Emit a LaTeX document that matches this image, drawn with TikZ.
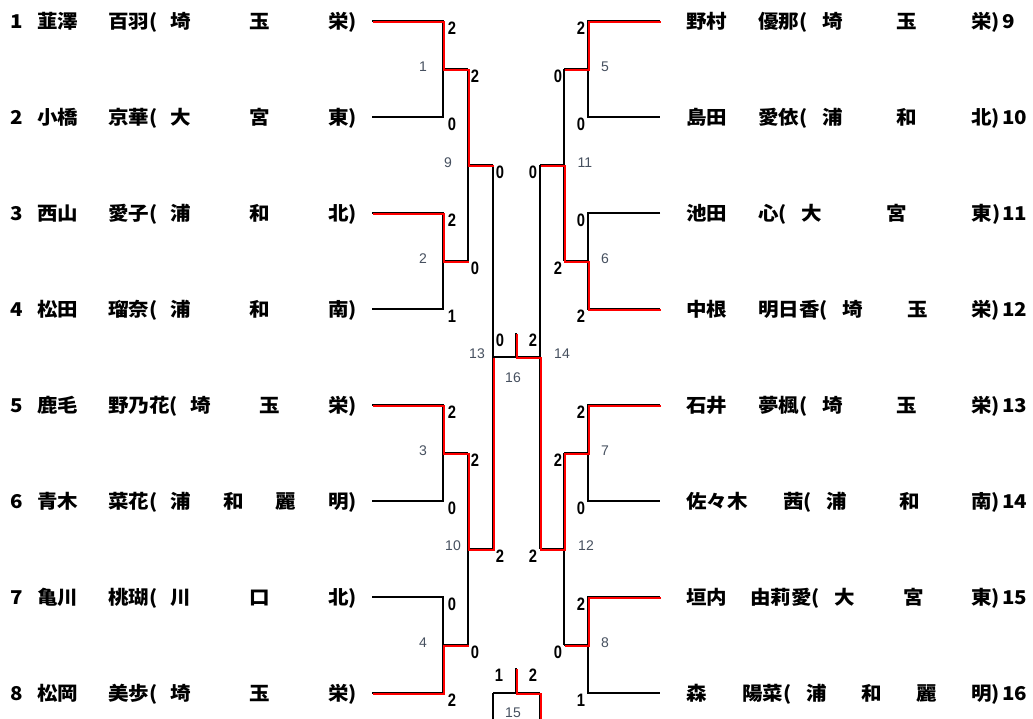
\documentclass[tikz,border=0pt]{standalone}
\usepackage{fontspec}
\setmainfont{Liberation Sans}
\newfontfamily\jpfont{Noto Sans CJK JP}[FakeStretch=1.08]
\newfontfamily\scorefont{Liberation Sans}[FakeStretch=0.82]
\definecolor{labc}{RGB}{70,80,95}
\tikzset{
  wire/.style={black, line width=1.1pt},
  win/.style={red, line width=1.6pt, transform canvas={shift={(1.1pt,-1.1pt)}}},
  score/.style={font=\scorefont\bfseries\fontsize{18}{18}\selectfont, inner sep=0pt},
  lab/.style={font=\fontsize{14}{14}\selectfont, text=labc, inner sep=0pt},
  ptxt/.style={font=\jpfont\bfseries\fontsize{19}{19}\selectfont, inner sep=0pt, anchor=west}
}
\newcommand\lrow[6]{\node[ptxt] (#1) at (10,#2) {\hbox to 347pt{\rlap{#3}\hskip 27pt\rlap{#4}\hskip 71pt #5(\hskip 13pt #6)}};}
\newcommand\rrow[7]{\node[ptxt] (#1) at (686,#2) {\hbox to 314pt{\rlap{#3}\hskip #4pt #5(\hskip 15pt #6)}\rlap{\hskip 2pt #7}};}
\begin{document}
\begin{tikzpicture}[x=1pt,y=-1pt]
\fill[white] (0,0) rectangle (1033,719);
\useasboundingbox (0,0) rectangle (1033,719);
% coordinates
\foreach \i in {1,...,8}{
  \pgfmathsetmacro\yy{21+96*(\i-1)}
  \coordinate (la\i) at (372,\yy); \coordinate (lb\i) at (443,\yy);
  \coordinate (ra\i) at (660,\yy); \coordinate (rb\i) at (588,\yy);
}
\foreach \k in {1,...,4}{
  \pgfmathsetmacro\yy{69+192*(\k-1)}
  \coordinate (lm\k) at (443,\yy); \coordinate (lc\k) at (468,\yy);
  \coordinate (rm\k) at (588,\yy); \coordinate (rc\k) at (564,\yy);
}
\coordinate (ld1) at (468,165); \coordinate (le1) at (493,165);
\coordinate (ld2) at (468,549); \coordinate (le2) at (493,549);
\coordinate (rd1) at (564,165); \coordinate (re1) at (540,165);
\coordinate (rd2) at (564,549); \coordinate (re2) at (540,549);
\coordinate (lf) at (493,357); \coordinate (rf) at (540,357);
\coordinate (fc) at (516,357); \coordinate (ft) at (516,333);
\coordinate (tt) at (516,668); \coordinate (tc) at (516,693);
\coordinate (tl) at (493,693); \coordinate (tr) at (540,693);
\coordinate (tlb) at (493,720); \coordinate (trb) at (540,720);
% black bracket
\foreach \k [evaluate=\k as \i using int(2*\k-1), evaluate=\k as \j using int(2*\k)] in {1,...,4}{
  \draw[wire] (la\i) -- (lb\i) -- (lb\j) -- (la\j);
  \draw[wire] (lm\k) -- (lc\k);
  \draw[wire] (ra\i) -- (rb\i) -- (rb\j) -- (ra\j);
  \draw[wire] (rm\k) -- (rc\k);
}
\draw[wire] (lc1) -- (lc2); \draw[wire] (ld1) -- (le1);
\draw[wire] (lc3) -- (lc4); \draw[wire] (ld2) -- (le2);
\draw[wire] (rc1) -- (rc2); \draw[wire] (rd1) -- (re1);
\draw[wire] (rc3) -- (rc4); \draw[wire] (rd2) -- (re2);
\draw[wire] (le1) -- (le2); \draw[wire] (re1) -- (re2);
\draw[wire] (lf) -- (rf); \draw[wire] (fc) -- (ft);
\draw[wire] (tt) -- (tc); \draw[wire] (tl) -- (tr);
\draw[wire] (tl) -- (tlb); \draw[wire] (tr) -- (trb);
% winners
\draw[win] (la1) -- (lb1) -- (lm1) -- (lc1) -- (ld1) -- (le1);
\draw[win] (la3) -- (lb3) -- (lm2) -- (lc2);
\draw[win] (la5) -- (lb5) -- (lm3) -- (lc3) -- (ld2) -- (le2) -- (lf);
\draw[win] (la8) -- (lb8) -- (lm4) -- (lc4);
\draw[win] (ra1) -- (rb1) -- (rm1) -- (rc1);
\draw[win] (ra4) -- (rb4) -- (rm2) -- (rc2) -- (rd1) -- (re1);
\draw[win] (ra5) -- (rb5) -- (rm3) -- (rc3) -- (rd2) -- (re2) -- (rf) -- (fc) -- (ft);
\draw[win] (ra7) -- (rb7) -- (rm4) -- (rc4);
\draw[win] (tt) -- (tc) -- (tr) -- (trb);
% scores
\foreach \i/\v in {1/2,2/0,3/2,4/1,5/2,6/0,7/0,8/2}{
  \node[score] (sl\i) at (452,{28+96*(\i-1)}) {\v};}
\foreach \i/\v in {1/2,2/0,3/0,4/2,5/2,6/0,7/2,8/1}{
  \node[score] (sr\i) at (581,{28+96*(\i-1)}) {\v};}
\foreach \k/\v in {1/2,2/0,3/2,4/0}{
  \node[score] (tl\k s) at (475,{76+192*(\k-1)}) {\v};}
\foreach \k/\v in {1/0,2/2,3/2,4/0}{
  \node[score] (tr\k s) at (558,{76+192*(\k-1)}) {\v};}
\node[score] (q1) at (500,172) {0};
\node[score] (q2) at (500,556) {2};
\node[score] (q3) at (533,172) {0};
\node[score] (q4) at (533,556) {2};
\node[score] (f1) at (500,340) {0};
\node[score] (f2) at (533,340) {2};
\node[score] (h1) at (499,675) {1};
\node[score] (h2) at (533,675) {2};
% match labels
\foreach \k in {1,...,4}{
  \pgfmathtruncatemacro\rn{\k+4}
  \node[lab] (ml\k) at (423,{67+192*(\k-1)}) {\k};
  \node[lab] (mr\k) at (605,{67+192*(\k-1)}) {\rn};}
\node[lab] (m9) at (448,163) {9};
\node[lab] (m10) at (453,546) {10};
\node[lab] (m11) at (585,163) {11};
\node[lab] (m12) at (586,546) {12};
\node[lab] (m13) at (477,354) {13};
\node[lab] (m14) at (562,354) {14};
\node[lab] (m16) at (513,378) {16};
\node[lab] (m15) at (513,713) {15};
% players left
\lrow{p1}{22}{1}{韮澤}{百羽}{埼\hfill 玉\hfill 栄}
\lrow{p2}{118}{2}{小橋}{京華}{大\hfill 宮\hfill 東}
\lrow{p3}{214}{3}{西山}{愛子}{浦\hfill 和\hfill 北}
\lrow{p4}{310}{4}{松田}{瑠奈}{浦\hfill 和\hfill 南}
\lrow{p5}{406}{5}{鹿毛}{野乃花}{埼\hfill 玉\hfill 栄}
\lrow{p6}{502}{6}{青木}{菜花}{浦\hfill 和\hfill 麗\hfill 明}
\lrow{p7}{598}{7}{亀川}{桃瑚}{川\hfill 口\hfill 北}
\lrow{p8}{694}{8}{松岡}{美歩}{埼\hfill 玉\hfill 栄}
% players right
\rrow{p9}{22}{野村}{72}{優那}{埼\hfill 玉\hfill 栄}{9}
\rrow{p10}{118}{島田}{72}{愛依}{浦\hfill 和\hfill 北}{10}
\rrow{p11}{214}{池田}{72}{心}{大\hfill 宮\hfill 東}{11}
\rrow{p12}{310}{中根}{72}{明日香}{埼\hfill 玉\hfill 栄}{12}
\rrow{p13}{406}{石井}{72}{夢楓}{埼\hfill 玉\hfill 栄}{13}
\rrow{p14}{502}{佐々木}{97}{茜}{浦\hfill 和\hfill 南}{14}
\rrow{p15}{598}{垣内}{64}{由莉愛}{大\hfill 宮\hfill 東}{15}
\rrow{p16}{694}{森}{56}{陽菜}{浦\hfill 和\hfill 麗\hfill 明}{16}
\end{tikzpicture}
\end{document}
